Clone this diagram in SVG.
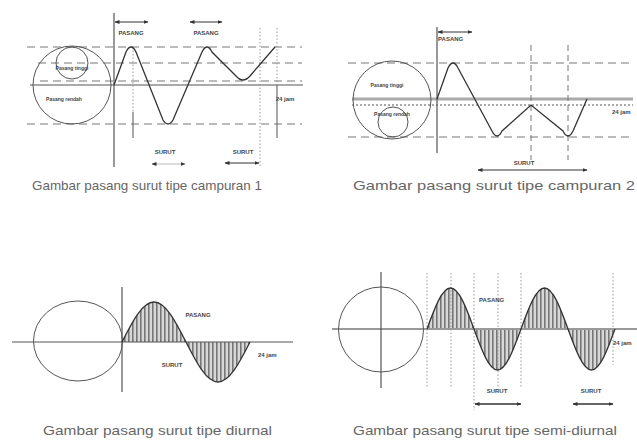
<svg xmlns="http://www.w3.org/2000/svg" width="637" height="440" viewBox="0 0 637 440">
<defs>
<style>
.ln{stroke:#555;stroke-width:1;fill:none}
.ax{stroke:#555;stroke-width:1.2;fill:none}
.dash{stroke:#777;stroke-width:1;stroke-dasharray:8,5;fill:none}
.dot{stroke:#999;stroke-width:1;stroke-dasharray:1.5,2;fill:none}
.wave{stroke:#333;stroke-width:1.3;fill:none}
.arr{stroke:#333;stroke-width:1;fill:none;marker-start:url(#ah);marker-end:url(#ah)}
.arrb{stroke:#333;stroke-width:1.6;fill:none;marker-start:url(#ah);marker-end:url(#ah)}
.lb{font-family:"Liberation Sans",Arial,sans-serif;font-size:6px;font-weight:bold;fill:#444}
.cl{font-family:"Liberation Sans",Arial,sans-serif;font-size:5px;font-weight:bold;fill:#444}
.cap{font-family:"Liberation Sans",Arial,sans-serif;font-size:13px;fill:#666}
</style>
<marker id="ah" viewBox="0 0 10 10" refX="9" refY="5" markerWidth="5" markerHeight="5" orient="auto-start-reverse" markerUnits="userSpaceOnUse">
<path d="M0,1 L10,5 L0,9 Z" fill="#333"/>
</marker>
<pattern id="hatch" width="4" height="4" patternUnits="userSpaceOnUse">
<rect width="4" height="4" fill="#d8d8d8"/>
<rect x="0" y="0" width="1.6" height="4" fill="#777"/>
</pattern>
</defs>
<rect width="637" height="440" fill="#fff"/>

<g id="diagram1">
<line class="dash" x1="27" y1="47" x2="302" y2="47"/>
<line class="dash" x1="38" y1="63" x2="302" y2="63"/>
<line class="dash" x1="40" y1="81" x2="302" y2="81"/>
<line class="dash" x1="27" y1="124" x2="302" y2="124"/>
<line class="ax" x1="30" y1="85" x2="303" y2="85"/>
<line class="ax" x1="114" y1="13" x2="114" y2="167"/>
<circle class="ln" cx="72" cy="85" r="39"/>
<circle class="ln" cx="72" cy="63" r="16"/>
<line class="dot" x1="133" y1="47" x2="133" y2="112"/>
<line class="ln" x1="133" y1="112" x2="133" y2="138"/>
<line class="dot" x1="260" y1="28" x2="260" y2="167"/>
<line class="dot" x1="277" y1="28" x2="277" y2="85"/>
<line class="ln" x1="277" y1="85" x2="277" y2="138"/>
<path class="wave" d="M114,85 L126,52 Q131,42 136,52 L163,120 Q168,128 173,120 L202,52 Q207,42 212,52 L236,76 Q243,84 250,76 L275,47"/>
<line class="arr" x1="115" y1="22" x2="148" y2="22"/>
<line class="arr" x1="190" y1="22" x2="222" y2="22"/>
<line class="arr" x1="152" y1="164" x2="185" y2="164" style="stroke:#bbb"/>
<line class="arr" x1="225" y1="163" x2="259" y2="163"/>
<text class="lb" x="131" y="35" text-anchor="middle">PASANG</text>
<text class="lb" x="206" y="35" text-anchor="middle">PASANG</text>
<text class="lb" x="165" y="154" text-anchor="middle">SURUT</text>
<text class="lb" x="243" y="154" text-anchor="middle">SURUT</text>
<text class="lb" x="285" y="101" text-anchor="middle">24 jam</text>
<text class="cl" x="72" y="70" text-anchor="middle">Pasang tinggi</text>
<text class="cl" x="64" y="101" text-anchor="middle">Pasang rendah</text>
<text class="cap" x="32" y="190" textLength="230" lengthAdjust="spacingAndGlyphs">Gambar pasang surut tipe campuran 1</text>
</g>

<g id="diagram2">
<line class="dash" x1="348" y1="63" x2="633" y2="63"/>
<line class="dash" x1="348" y1="137" x2="633" y2="137"/>
<line x1="352" y1="99" x2="633" y2="99" stroke="#aaa" stroke-width="3"/>
<line x1="352" y1="105" x2="633" y2="105" stroke="#555" stroke-width="1" stroke-dasharray="2,2"/>
<line class="ax" x1="437" y1="27" x2="437" y2="153"/>
<circle class="ln" cx="392" cy="100" r="39"/>
<circle class="ln" cx="393" cy="122" r="15"/>
<line class="dash" x1="531" y1="45" x2="531" y2="160" style="stroke-dasharray:6,4"/>
<line class="dash" x1="568" y1="45" x2="568" y2="160" style="stroke-dasharray:6,4"/>
<path class="wave" d="M437,99 L448,68 Q453,58 458,68 L492,131 Q497,141 502,131 L531,105 L563,131 Q568,141 573,131 L587,99"/>
<line class="arr" x1="438" y1="32" x2="472" y2="32"/>
<line class="arr" x1="478" y1="170" x2="587" y2="170"/>
<text class="lb" x="438" y="41">PASANG</text>
<text class="cl" x="387" y="87" text-anchor="middle">Pasang tinggi</text>
<text class="cl" x="392" y="116" text-anchor="middle">Pasang rendah</text>
<text class="lb" x="612" y="114">24 jam</text>
<text class="lb" x="524" y="165" text-anchor="middle">SURUT</text>
<text class="cap" x="353" y="190" textLength="282" lengthAdjust="spacingAndGlyphs">Gambar pasang surut tipe campuran 2</text>
</g>

<g id="diagram3">
<path d="M122,342 C132.4,321.5 142.4,302 154,302 S175.6,321.5 186,342 S206.4,382 218,382 S239.6,362.5 250,342 Z" fill="url(#hatch)" stroke="none"/>
<line class="ax" x1="12" y1="342" x2="293" y2="342"/>
<line class="ax" x1="122" y1="287" x2="122" y2="392"/>
<ellipse class="ln" cx="78" cy="341" rx="44.5" ry="40"/>
<path class="wave" d="M122,342 C132.4,321.5 142.4,302 154,302 S175.6,321.5 186,342 S206.4,382 218,382 S239.6,362.5 250,342"/>
<text class="lb" x="198" y="317" text-anchor="middle">PASANG</text>
<text class="lb" x="172" y="367" text-anchor="middle">SURUT</text>
<text class="lb" x="258" y="357">24 jam</text>
<text class="cap" x="43" y="435" textLength="229" lengthAdjust="spacingAndGlyphs">Gambar pasang surut tipe diurnal</text>
</g>

<g id="diagram4">
<path d="M427,329 C434.66,308 442,288 450.5,288 S466.34,308 474,329 S489,370 497.5,370 S513.34,350 521,329 S536,288 544.5,288 S560.34,308 568,329 S583,370 591.5,370 S607.34,350 615,329 Z" fill="url(#hatch)" stroke="none"/>
<line class="dot" x1="427" y1="273" x2="427" y2="387"/>
<line class="dot" x1="451" y1="273" x2="451" y2="387"/>
<line class="dot" x1="474" y1="273" x2="474" y2="410"/>
<line class="dot" x1="498" y1="273" x2="498" y2="387"/>
<line class="dot" x1="521" y1="273" x2="521" y2="387"/>
<line class="dot" x1="613" y1="273" x2="613" y2="365"/>
<line x1="332" y1="329" x2="637" y2="329" stroke="#999" stroke-width="2"/>
<line class="ax" x1="381" y1="272" x2="381" y2="388"/>
<circle class="ln" cx="381" cy="329.5" r="42.5"/>
<path class="wave" d="M427,329 C434.66,308 442,288 450.5,288 S466.34,308 474,329 S489,370 497.5,370 S513.34,350 521,329 S536,288 544.5,288 S560.34,308 568,329 S583,370 591.5,370 S607.34,350 615,329"/>
<line class="arrb" x1="475" y1="404" x2="521" y2="404"/>
<line class="arrb" x1="573" y1="404" x2="613" y2="404"/>
<text class="lb" x="479" y="302">PASANG</text>
<text class="lb" x="497" y="393" text-anchor="middle">SURUT</text>
<text class="lb" x="591" y="393" text-anchor="middle">SURUT</text>
<text class="lb" x="613" y="345">24 jam</text>
<text class="cap" x="353" y="435" textLength="264" lengthAdjust="spacingAndGlyphs">Gambar pasang surut tipe semi-diurnal</text>
</g>
</svg>
